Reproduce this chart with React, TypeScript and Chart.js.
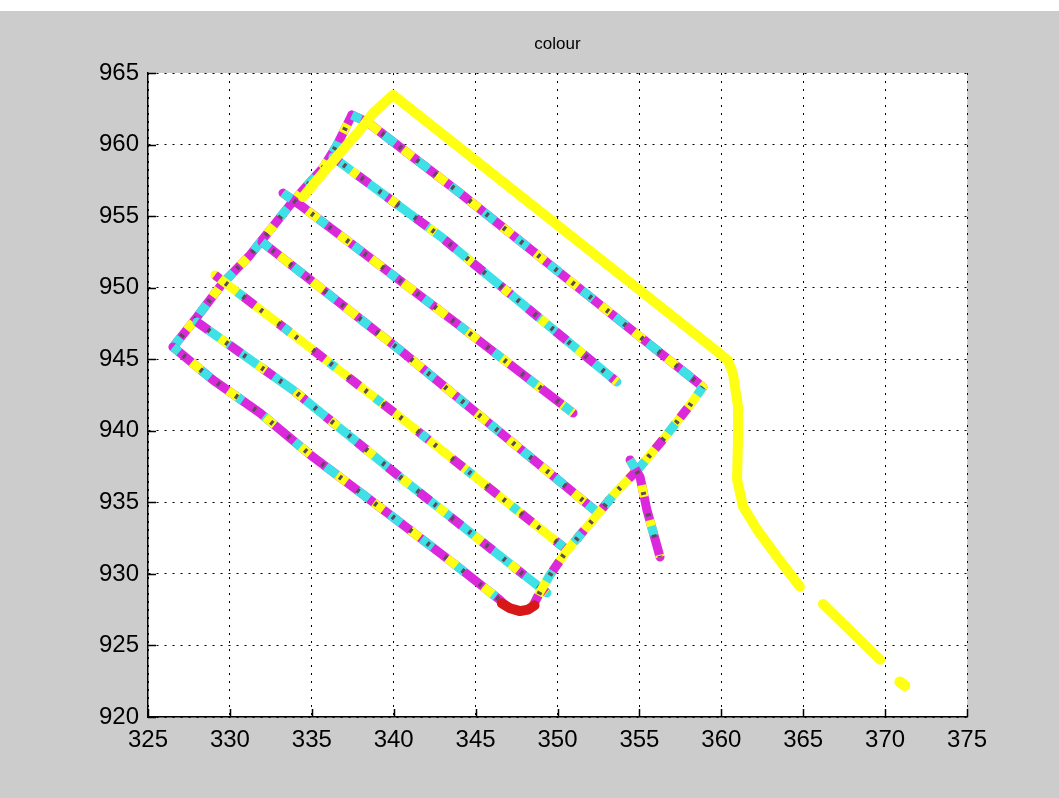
import React, { useEffect, useRef } from "react";
import { Chart, registerables } from "chart.js";

Chart.register(...registerables);

// ---- axis ticks ----
const xTicks = [325, 330, 335, 340, 345, 350, 355, 360, 365, 370, 375];
const yTicks = [920, 925, 930, 935, 940, 945, 950, 955, 960, 965];
const titleText = "colour";

// ---- track pieces ----
// yellow final leg: turn on the left, peak, long side, curve and exit
const outerX = [334.46, 335.32, 336.72, 337.94, 338.74, 339.96, 359.8, 360.41, 360.71, 361.02, 361.02, 360.96, 361.33, 362.18, 363.4, 364.8];
const outerY = [956.33, 957.52, 959.41, 961.02, 962.2, 963.46, 945.5, 944.9, 944.0, 941.7, 939.4, 936.6, 934.7, 933.1, 931.2, 929.1];
const tailX = [366.2, 369.7];
const tailY = [927.9, 924.0];
const dotX = [370.9, 371.2];
const dotY = [922.45, 922.2];

// left (north-west) edge
const leftEdgeX = [326.53, 327.99, 329.52, 331.23, 332.45, 333.67, 334.58, 335.68, 336.54, 337.45];
const leftEdgeY = [945.85, 947.95, 950.26, 952.28, 954.03, 955.78, 956.96, 958.36, 959.97, 962.06];

// long survey lines, from top to bottom
const line1X = [337.45, 338.37, 344.05, 358.88];
const line1Y = [962.06, 961.58, 956.61, 943.06];
const line2X = [336.29, 342.83, 353.63];
const line2Y = [959.13, 953.61, 943.41];
const line3X = [333.24, 334.28, 344.05, 350.95];
const line3Y = [956.61, 955.78, 947.32, 941.24];
const line4X = [331.96, 340.38, 352.41];
const line4Y = [953.19, 945.64, 934.32];
const line5X = [329.09, 333.49, 340.38, 350.58];
const line5Y = [950.88, 947.04, 940.96, 931.67];
const line6X = [327.99, 333.85, 340.38, 349.36];
const line6Y = [947.6, 942.85, 936.77, 928.66];
const line7X = [326.53, 328.97, 331.84, 335.07, 339.96, 343.62, 346.49, 346.79];
const line7Y = [945.85, 943.55, 941.24, 938.17, 933.97, 930.76, 928.17, 927.82];

// right (south-east) edge
const rightEdgeX = [348.5, 348.93, 349.54, 350.46, 351.37, 352.41, 353.51, 355.04, 356.56, 358.09, 358.88];
const rightEdgeY = [927.75, 928.73, 929.92, 931.46, 932.71, 934.11, 935.65, 937.47, 939.56, 941.8, 943.06];

// short spur
const spurX = [354.43, 355.04, 355.46, 356.26];
const spurY = [937.96, 936.77, 934.46, 931.18];

// red bottom turn
const redX = [346.6, 347.1, 347.71, 348.2, 348.6];
const redY = [927.95, 927.6, 927.4, 927.5, 927.8];

// ---- styling ----
const MAG = "#dc28dc";
const CYA = "#3ee2e6";
const YEL = "#ffff14";
const RED = "#d81818";
const DARK = "#5e4a58";
const FONT = '"Liberation Sans", Arial, sans-serif';

type Ov = [string, number[], number];

function pts(xs: number[], ys: number[]) {
  return xs.map((x, i) => ({ x, y: ys[i] }));
}

function track(xs: number[], ys: number[], base: string, overlays: Ov[], width = 9, dark = true) {
  const data = pts(xs, ys);
  const common = { data, showLine: true, pointRadius: 0, fill: false, tension: 0, borderJoinStyle: "round" };
  const sets: any[] = [{ ...common, borderColor: base, borderWidth: width, borderCapStyle: "round" }];
  for (const [c, dash, off] of overlays) {
    sets.push({ ...common, borderColor: c, borderWidth: width, borderDash: dash, borderDashOffset: off, borderCapStyle: "butt" });
  }
  if (dark) {
    sets.push({ ...common, borderColor: DARK, borderWidth: width - 4, borderDash: [3, 19], borderDashOffset: 9, borderCapStyle: "butt" });
  }
  return sets;
}

const bgPlugin = {
  id: "bgPlugin",
  beforeDraw(chart: any) {
    const { ctx, chartArea: a, width, height } = chart;
    ctx.save();
    ctx.fillStyle = "#cccccc";
    ctx.fillRect(0, 0, width, height);
    ctx.fillStyle = "#ffffff";
    ctx.fillRect(a.left, a.top, a.right - a.left, a.bottom - a.top);
    ctx.restore();
  },
};

const axesTitle = {
  id: "axesTitle",
  afterDraw(chart: any) {
    const { ctx, chartArea: a } = chart;
    ctx.save();
    ctx.fillStyle = "#000";
    ctx.font = `17px ${FONT}`;
    ctx.textAlign = "center";
    ctx.textBaseline = "middle";
    ctx.fillText(titleText, (a.left + a.right) / 2, a.top - 29);
    ctx.restore();
  },
};

const insideTicks = {
  id: "insideTicks",
  beforeDatasetsDraw(chart: any) {
    const { ctx, chartArea: a, scales } = chart;
    ctx.save();
    ctx.strokeStyle = "#000";
    ctx.lineWidth = 1.5;
    ctx.beginPath();
    for (const v of xTicks) {
      const px = Math.round(scales.x.getPixelForValue(v)) + 0.5;
      ctx.moveTo(px, a.bottom);
      ctx.lineTo(px, a.bottom - 8);
    }
    for (const v of yTicks) {
      const py = Math.round(scales.y.getPixelForValue(v)) + 0.5;
      ctx.moveTo(a.left, py);
      ctx.lineTo(a.left + 8, py);
    }
    ctx.stroke();
    ctx.restore();
  },
};

export default function App() {
  const ref = useRef<HTMLCanvasElement | null>(null);

  useEffect(() => {
    if (!ref.current) return;
    const layers: any[] = [
      ...track(leftEdgeX, leftEdgeY, MAG, [[CYA, [12, 30], 0], [YEL, [10, 32], 20]]),
      ...track(line1X, line1Y, MAG, [[CYA, [14, 28], 4], [YEL, [12, 30], 22]]),
      ...track(line2X, line2Y, CYA, [[MAG, [14, 22], 5], [YEL, [8, 40], 25]]),
      ...track(line3X, line3Y, MAG, [[YEL, [14, 26], 10], [CYA, [10, 34], 0]]),
      ...track(line4X, line4Y, MAG, [[CYA, [12, 30], 2], [YEL, [14, 28], 20]]),
      ...track(line5X, line5Y, YEL, [[MAG, [14, 30], 8], [CYA, [8, 50], 30]]),
      ...track(line6X, line6Y, CYA, [[MAG, [14, 26], 0], [YEL, [10, 36], 18]]),
      ...track(line7X, line7Y, MAG, [[CYA, [14, 26], 6], [YEL, [12, 34], 22]]),
      ...track(rightEdgeX, rightEdgeY, YEL, [[MAG, [12, 28], 0], [CYA, [12, 36], 20]]),
      ...track(spurX, spurY, MAG, [[YEL, [12, 24], 8], [CYA, [10, 60], 0]]),
      ...track(outerX, outerY, YEL, [], 10, false),
      ...track(tailX, tailY, YEL, [], 10, false),
      ...track(dotX, dotY, YEL, [], 11, false),
      ...track(redX, redY, RED, [], 10, false),
    ];
    layers.forEach((d, i) => (d.order = layers.length - i));

    const chart = new Chart(ref.current, {
      type: "scatter",
      data: { datasets: layers },
      plugins: [bgPlugin, insideTicks, axesTitle],
      options: {
        animation: false,
        responsive: false,
        devicePixelRatio: 1,
        layout: { padding: { left: 0, right: 92, top: 62, bottom: 0 } },
        plugins: {
          legend: { display: false },
          tooltip: { enabled: false },
          title: { display: false },
        },
        scales: {
          x: {
            type: "linear",
            min: 325,
            max: 375,
            afterBuildTicks: (s: any) => {
              s.ticks = xTicks.map((v) => ({ value: v }));
            },
            afterFit: (s: any) => {
              s.height = 81;
            },
            ticks: { color: "#000", font: { family: FONT, size: 24 }, padding: 9, maxRotation: 0 },
            grid: { color: "#000", lineWidth: 1, drawTicks: false },
            border: { display: true, color: "#000", width: 1.5, dash: [2, 6] },
          },
          y: {
            type: "linear",
            min: 920,
            max: 965,
            afterBuildTicks: (s: any) => {
              s.ticks = yTicks.map((v) => ({ value: v }));
            },
            afterFit: (s: any) => {
              s.width = 148;
            },
            ticks: { color: "#000", font: { family: FONT, size: 24 }, padding: 9 },
            grid: { color: "#000", lineWidth: 1, drawTicks: false },
            border: { display: true, color: "#000", width: 1.5, dash: [2, 6] },
          },
        },
      },
    } as any);
    return () => chart.destroy();
  }, []);

  return (
    <div style={{ position: "fixed", left: 0, top: 0, width: 1059, height: 798, background: "#ffffff" }}>
      <canvas
        ref={ref}
        width={1059}
        height={787}
        style={{ position: "absolute", left: 0, top: 11, width: 1059, height: 787 }}
      />
    </div>
  );
}
